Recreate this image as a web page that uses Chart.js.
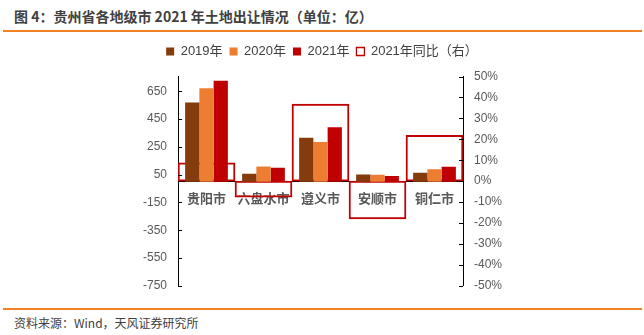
<!doctype html>
<html lang="zh">
  <head>
    <meta charset="UTF-8" />
    <title>贵州省各地级市 2021 年土地出让情况</title>
    <script src="https://cdn.jsdelivr.net/npm/chart.js"></script>
    <style>
      body {
        margin: 0;
        width: 644px;
        height: 335px;
        background: #fff;
        position: relative;
        overflow: hidden;
      }
      .title {
        position: absolute;
        left: 14px;
        top: 6px;
        font: bold 14px "Noto Sans CJK SC", sans-serif;
        color: #404040;
        white-space: nowrap;
      }
      .rule {
        position: absolute;
        left: 3px;
        width: 639px;
        height: 2px;
        background: #f08223;
      }
      .source {
        position: absolute;
        left: 14px;
        top: 314px;
        font: 12px "Noto Sans CJK SC", sans-serif;
        color: #404040;
        white-space: nowrap;
      }
      .chart-box {
        position: absolute;
        left: 0;
        top: 38px;
        width: 644px;
        height: 266px;
      }
    </style>
  </head>
  <body>
    <div class="title">图 4：贵州省各地级市 2021 年土地出让情况（单位：亿）</div>
    <div class="rule" style="top: 30px"></div>
    <div class="chart-box"><canvas id="chart"></canvas></div>
    <div class="rule" style="top: 308px"></div>
    <div class="source">资料来源：Wind，天风证券研究所</div>

    <script>
      // données
      const cities = ['贵阳市', '六盘水市', '遵义市', '安顺市', '铜仁市'];
      const land2019 = [570, 57, 316, 52, 64];
      const land2020 = [672, 109, 285, 50, 90];
      const land2021 = [727, 100, 392, 40, 107];
      const yoy2021 = [0.087, -0.076, 0.368, -0.18, 0.219];

      const leftTicks = [-750, -550, -350, -150, 50, 250, 450, 650];
      const rightTicks = [-0.5, -0.4, -0.3, -0.2, -0.1, 0, 0.1, 0.2, 0.3, 0.4, 0.5];

      const tickFont = { family: '"Liberation Sans", Arial, sans-serif', size: 12 };

      // petits traits de graduation tournés vers l'intérieur
      const innerTicks = {
        id: 'innerTicks',
        afterDraw(chart) {
          const ctx = chart.ctx;
          const y = chart.scales.y;
          const y1 = chart.scales.y1;
          ctx.save();
          ctx.strokeStyle = '#000';
          ctx.lineWidth = 1;
          y.ticks.forEach((t) => {
            const p = Math.round(y.getPixelForValue(t.value)) + 0.5;
            ctx.beginPath();
            ctx.moveTo(y.right, p);
            ctx.lineTo(y.right + 4, p);
            ctx.stroke();
          });
          y1.ticks.forEach((t) => {
            const p = Math.round(y1.getPixelForValue(t.value)) + 0.5;
            ctx.beginPath();
            ctx.moveTo(y1.left, p);
            ctx.lineTo(y1.left - 4, p);
            ctx.stroke();
          });
          ctx.restore();
        },
      };

      // un peu d'espace sous la légende
      const legendGap = {
        id: 'legendGap',
        beforeInit(chart) {
          const fit = chart.legend.fit;
          chart.legend.fit = function () {
            fit.call(this);
            this.height += 8.5;
          };
        },
      };

      new Chart(document.getElementById('chart'), {
        type: 'bar',
        data: {
          labels: cities,
          datasets: [
            { label: '2019年', data: land2019, backgroundColor: '#843c0c', borderWidth: 0, yAxisID: 'y' },
            { label: '2020年', data: land2020, backgroundColor: '#ed7d31', borderWidth: 0, yAxisID: 'y' },
            { label: '2021年', data: land2021, backgroundColor: '#c00000', borderWidth: 0, yAxisID: 'y' },
            {
              label: '2021年同比（右）',
              data: yoy2021,
              yAxisID: 'y1',
              grouped: false,
              categoryPercentage: 1,
              barPercentage: 1,
              backgroundColor: 'rgba(255,255,255,0)',
              borderColor: '#c00000',
              borderWidth: 1.3,
              borderSkipped: false,
            },
          ],
        },
        options: {
          responsive: true,
          maintainAspectRatio: false,
          animation: false,
          categoryPercentage: 0.75,
          barPercentage: 1,
          layout: { padding: { left: 0, right: 0, top: 0, bottom: 8 } },
          plugins: {
            tooltip: { enabled: false },
            legend: {
              position: 'top',
              labels: {
                boxWidth: 8,
                boxHeight: 8,
                padding: 7,
                color: '#404040',
                font: { family: '"Liberation Sans", "Noto Sans CJK SC", sans-serif', size: 13 },
              },
            },
          },
          scales: {
            x: {
              position: { y: 0 },
              z: 1,
              grid: { display: false, drawTicks: false },
              border: { display: true, color: '#000', width: 1 },
              ticks: {
                padding: 9,
                maxRotation: 0,
                minRotation: 0,
                autoSkip: false,
                color: '#595959',
                font: { family: '"Noto Sans CJK SC", sans-serif', size: 13, weight: 'bold' },
              },
            },
            y: {
              position: 'left',
              min: -750,
              max: 757,
              z: 1,
              grid: { display: false, drawTicks: false },
              border: { display: true, color: '#000', width: 1 },
              afterBuildTicks(scale) {
                scale.ticks = leftTicks.map((v) => ({ value: v }));
              },
              afterFit(scale) {
                scale.width = 178;
              },
              ticks: { padding: 11, color: '#595959', font: tickFont },
            },
            y1: {
              position: 'right',
              min: -0.5,
              max: 0.5,
              z: 1,
              grid: { display: false, drawTicks: false },
              border: { display: true, color: '#000', width: 1 },
              afterBuildTicks(scale) {
                scale.ticks = rightTicks.map((v) => ({ value: v }));
              },
              afterFit(scale) {
                scale.width = 181;
              },
              ticks: {
                padding: 11,
                color: '#595959',
                font: tickFont,
                callback: (v) => Math.round(v * 100) + '%',
              },
            },
          },
        },
        plugins: [innerTicks, legendGap],
      });
    </script>
  </body>
</html>
